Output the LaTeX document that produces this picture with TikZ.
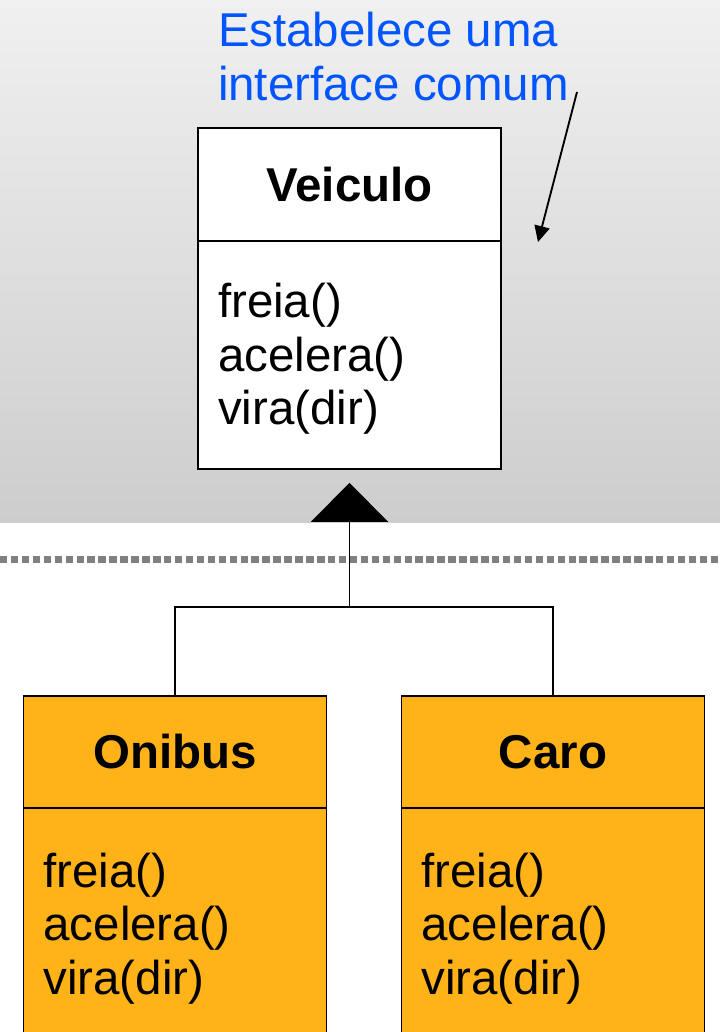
\documentclass[tikz,border=0pt]{standalone}
\usepackage{fontspec}
\setmainfont{Liberation Sans}
\usetikzlibrary{positioning,arrows.meta}

\definecolor{classorange}{RGB}{255,179,25}
\definecolor{noteblue}{RGB}{0,85,255}
\definecolor{bgtop}{RGB}{240,240,240}
\definecolor{bgbottom}{RGB}{205,205,205}
\newcommand{\umlfont}{\fontsize{35.6pt}{40.1pt}\selectfont}

\begin{document}
\begin{tikzpicture}[x=0.75pt, y=-0.75pt,
  every node/.style = {font=\umlfont, outer sep=0pt},
  classhead/.style = {draw, line width=1.4pt, fill=white,
    font=\umlfont\bfseries, minimum width=227.25pt, minimum height=84.5pt},
  classbody/.style = {draw, line width=1.4pt, fill=white, align=left,
    text width=197.25pt, inner xsep=15pt, minimum height=171pt},
  subclass/.style = {fill=classorange},
  link/.style = {line width=1.4pt},
  notetext/.style = {text=noteblue, align=left, inner sep=0pt},
  sepline/.style = {gray, line width=5.25pt, dash pattern=on 5.6pt off 2.6pt}]
  \useasboundingbox (0,0) rectangle (720,1032);
  \clip (0,0) rectangle (720,1032);
  % fundo
  \shade[top color=bgtop, bottom color=bgbottom] (0,0) rectangle (720,522);
  \draw[sepline] (0,559) -- (720,559);

  % superclasse
  \node[classhead] (veiculo) at (349.5,184.5) {Veiculo};
  \node[classbody, below=0pt of veiculo, text height=32pt] (veiculoops)
    {freia()\\acelera()\\vira(dir)};

  % subclasses
  \node[classhead, subclass] (onibus) at (175,752) {Onibus};
  \node[classbody, subclass, below=0pt of onibus, minimum height=180pt] (onibusops)
    {freia()\\acelera()\\vira(dir)};
  \node[classhead, subclass] (caro) at (553,752) {Caro};
  \node[classbody, subclass, below=0pt of caro, minimum height=180pt] (caroops)
    {freia()\\acelera()\\vira(dir)};

  % heranca
  \coordinate (branch) at (349.5,607);
  \draw[link] (onibus.north) |- (branch) -| (caro.north);
  \draw[link, -{Triangle[length=29.25pt,width=57.75pt]}, shorten >=10.5pt]
    (branch) -- (veiculoops.south);

  % nota
  \node[notetext, anchor=base west] (note) at (218,100)
    {Estabelece uma\\interface comum};
  \coordinate (notetail) at (577,92);
  \coordinate (notetip) at (538,242);
  \draw[link, -{Triangle[length=12pt,width=11.5pt]}] (notetail) -- (notetip);
\end{tikzpicture}
\end{document}
